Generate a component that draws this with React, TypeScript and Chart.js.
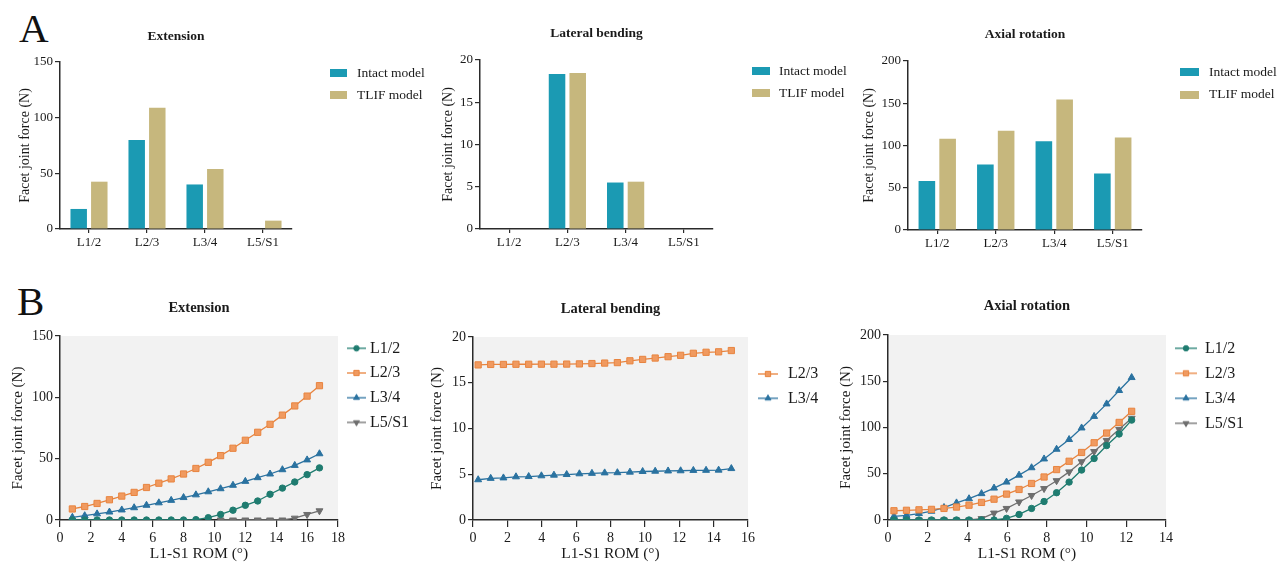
import React, { useEffect, useRef } from "react";
import { Chart, registerables } from "chart.js";

Chart.register(...registerables);

// ---------------- data ----------------
const levels = ["L1/2", "L2/3", "L3/4", "L5/S1"];
const modelNames = ["Intact model", "TLIF model"];

const extensionIntact = [18, 80, 40, 0];
const extensionTlif = [42.5, 109, 54, 7.5];
const lateralIntact = [0, 18.35, 5.5, 0];
const lateralTlif = [0, 18.45, 5.6, 0];
const axialIntact = [58, 77.5, 105, 67];
const axialTlif = [108, 117.5, 154.5, 109.5];

const extensionRom = [0.8, 1.6, 2.4, 3.2, 4.0, 4.8, 5.6, 6.4, 7.2, 8.0, 8.8, 9.6, 10.4, 11.2, 12.0, 12.8, 13.6, 14.4, 15.2, 16.0, 16.8];
const extensionL12 = [0, 0, 0, 0, 0, 0, 0, 0, 0, 0, 0.3, 1.9, 4.5, 8, 12, 15.5, 21, 26, 31, 37, 42.5];
const extensionL23 = [9, 11, 13.5, 16.5, 19.5, 22.5, 26.5, 30, 33.5, 37.5, 42, 47, 52.5, 58.5, 65, 71.5, 78, 85.5, 93, 101, 109.5];
const extensionL34 = [2.2, 3.5, 5, 6.5, 8.2, 10, 12, 14, 16, 18.3, 20.5, 23, 25.5, 28.3, 31.5, 34.5, 37.5, 41, 44.5, 49, 54];
const extensionL5S1 = [null, null, null, null, null, null, null, null, null, null, null, null, 0, 0, 0, 0, 0, 0, 1.5, 4.5, 7.5];

const lateralLevels = ["L2/3", "L3/4"];
const lateralRom = [0.3, 1.03, 1.77, 2.5, 3.24, 3.98, 4.71, 5.45, 6.19, 6.92, 7.66, 8.4, 9.13, 9.87, 10.6, 11.35, 12.08, 12.82, 13.56, 14.29, 15.03];
const lateralL23 = [16.95, 17.0, 17.0, 17.02, 17.02, 17.03, 17.03, 17.04, 17.06, 17.1, 17.15, 17.2, 17.4, 17.55, 17.7, 17.85, 18.0, 18.22, 18.33, 18.38, 18.52];
const lateralL34 = [4.4, 4.55, 4.6, 4.72, 4.75, 4.83, 4.9, 4.97, 5.05, 5.1, 5.15, 5.17, 5.23, 5.3, 5.33, 5.36, 5.38, 5.42, 5.43, 5.45, 5.62];

const axialRom = [0.3, 0.93, 1.56, 2.19, 2.82, 3.45, 4.08, 4.71, 5.34, 5.97, 6.6, 7.23, 7.86, 8.49, 9.12, 9.75, 10.38, 11.01, 11.64, 12.27];
const axialL12 = [0, 0, 0, 0, 0, 0, 0, 0, 0, 1.8, 6, 12.5, 20, 29.5, 41, 54, 66.5, 80.5, 93, 108];
const axialL23 = [10, 10.5, 11, 11.5, 12.5, 14, 16, 19, 22.5, 28, 33, 39.5, 46.5, 54.5, 63.5, 73, 83.5, 94, 105.5, 117.5];
const axialL34 = [4, 5, 7, 9.5, 13.5, 18.5, 23, 28.5, 34.5, 41, 48.5, 56.5, 66, 76.5, 87, 99.5, 112, 125.5, 140, 154];
const axialL5S1 = [0, 0, 0, 0, 0, 0, 0, 1.5, 7.5, 12.5, 19.5, 26.5, 34, 42.5, 52, 63, 74, 86, 98, 110];

const yTitle = "Facet joint force (N)";
const xTitle = "L1-S1 ROM (°)";

// ---------------- styles ----------------
const FONT = "'Liberation Serif', 'Times New Roman', Times, serif";
const AXIS = "#2a2a2a";
const TEXT = "#1a1a1a";
const INTACT_COLOR = "#1b9ab3";
const TLIF_COLOR = "#c6b77d";
const LINE_STYLE: Record<string, any> = {
  "L1/2": { color: "#1f7c70", fill: "#1f7c70", style: "circle", radius: 3.2, rotation: 0 },
  "L2/3": { color: "#e8843f", fill: "#f09a60", style: "rect", radius: 4.4, rotation: 0 },
  "L3/4": { color: "#2a72a0", fill: "#2a72a0", style: "triangle", radius: 4, rotation: 0 },
  "L5/S1": { color: "#6e6e6e", fill: "#6e6e6e", style: "triangle", radius: 4, rotation: 180 },
};

type Geom = {
  canvas: [number, number, number, number];
  area: [number, number, number, number];
  titleCY: number;
  titleSize: number;
  yTitleCX: number;
  yTitleSize: number;
  xTitleCY?: number;
  xTitleSize?: number;
  tickSize: number;
  xTickLen: number;
  xTickPad: number;
  legend: { iconLeft: number; textLeft: number; firstCY: number; spacing: number; size: number; iconW: number; iconH: number };
};

const G1: Geom = {
  canvas: [0, 10, 432, 260], area: [60, 62, 292, 229], titleCY: 36.7, titleSize: 13.5,
  yTitleCX: 25, yTitleSize: 14, tickSize: 13, xTickLen: 4, xTickPad: 2,
  legend: { iconLeft: 330, textLeft: 357, firstCY: 73, spacing: 22, size: 13.5, iconW: 17, iconH: 8 },
};
const G2: Geom = {
  canvas: [432, 10, 860, 260], area: [480, 60, 713, 229], titleCY: 34, titleSize: 13.5,
  yTitleCX: 448, yTitleSize: 14, tickSize: 13, xTickLen: 4, xTickPad: 2,
  legend: { iconLeft: 752, textLeft: 779, firstCY: 71, spacing: 22, size: 13.5, iconW: 18, iconH: 8 },
};
const G3: Geom = {
  canvas: [860, 10, 1282, 260], area: [908, 61, 1142, 230], titleCY: 35, titleSize: 13.5,
  yTitleCX: 869, yTitleSize: 14, tickSize: 13, xTickLen: 4, xTickPad: 2,
  legend: { iconLeft: 1180, textLeft: 1209, firstCY: 72, spacing: 22.5, size: 13.5, iconW: 19, iconH: 8 },
};
const G4: Geom = {
  canvas: [0, 280, 420, 568], area: [60, 336, 338, 520], titleCY: 308, titleSize: 14.5,
  yTitleCX: 18, yTitleSize: 15, xTitleCY: 553.5, xTitleSize: 15.5, tickSize: 14, xTickLen: 7, xTickPad: 3,
  legend: { iconLeft: 347, textLeft: 370, firstCY: 348.3, spacing: 24.7, size: 16, iconW: 19, iconH: 10 },
};
const G5: Geom = {
  canvas: [420, 280, 830, 568], area: [473, 337, 748, 520], titleCY: 309, titleSize: 14.5,
  yTitleCX: 437.5, yTitleSize: 15, xTitleCY: 553.5, xTitleSize: 15.5, tickSize: 14, xTickLen: 7, xTickPad: 3,
  legend: { iconLeft: 758, textLeft: 788, firstCY: 374, spacing: 24.3, size: 16, iconW: 20, iconH: 10 },
};
const G6: Geom = {
  canvas: [830, 280, 1282, 568], area: [888, 335, 1166, 520], titleCY: 306.7, titleSize: 14.5,
  yTitleCX: 846, yTitleSize: 15, xTitleCY: 553.5, xTitleSize: 15.5, tickSize: 14, xTickLen: 7, xTickPad: 3,
  legend: { iconLeft: 1175, textLeft: 1205, firstCY: 348.3, spacing: 25, size: 16, iconW: 22, iconH: 10 },
};

// ---------------- helpers ----------------
function drawMarker(ctx: CanvasRenderingContext2D, x: number, y: number, m: any) {
  ctx.fillStyle = m.fill;
  ctx.strokeStyle = m.color;
  ctx.lineWidth = 1;
  ctx.beginPath();
  if (m.style === "circle") {
    ctx.arc(x, y, m.radius, 0, Math.PI * 2);
  } else if (m.style === "rect") {
    const s = m.radius * Math.SQRT1_2;
    ctx.rect(x - s, y - s, 2 * s, 2 * s);
  } else {
    const r = m.radius;
    const dir = m.rotation === 180 ? -1 : 1;
    ctx.moveTo(x, y - dir * r);
    ctx.lineTo(x + r * 0.866, y + dir * r * 0.5);
    ctx.lineTo(x - r * 0.866, y + dir * r * 0.5);
    ctx.closePath();
  }
  ctx.fill();
  ctx.stroke();
}

function makeBarIcon(color: string, w: number, h: number) {
  const c = document.createElement("canvas");
  c.width = w;
  c.height = h;
  const ctx = c.getContext("2d")!;
  ctx.fillStyle = color;
  ctx.fillRect(0, 0, w, h);
  return c;
}

function makeLineIcon(level: string, w: number, h: number) {
  const m = LINE_STYLE[level];
  const c = document.createElement("canvas");
  c.width = w;
  c.height = h;
  const ctx = c.getContext("2d")!;
  ctx.strokeStyle = m.color;
  ctx.lineWidth = 1.3;
  ctx.beginPath();
  ctx.moveTo(0, h / 2);
  ctx.lineTo(w, h / 2);
  ctx.stroke();
  drawMarker(ctx, w / 2, h / 2, { ...m, radius: m.radius * 0.85 });
  return c;
}

function legendPlacer(g: Geom) {
  return {
    id: "legendPlacer",
    afterLayout(chart: any) {
      const lg = chart.legend;
      if (!lg) return;
      const L = g.legend;
      const P = 2 * (L.textLeft - L.iconLeft) - L.iconW - L.size;
      const cursorX = L.iconLeft - P / 2 + L.iconW / 2;
      const pad = L.spacing - L.size;
      lg.left = cursorX - pad - g.canvas[0];
      lg.right = chart.width;
      lg.width = lg.right - lg.left;
      lg.top = L.firstCY - L.size / 2 - pad - g.canvas[1];
      lg.bottom = chart.height;
      lg.height = lg.bottom - lg.top;
    },
  };
}

const grayBackground = {
  id: "grayBackground",
  beforeDraw(chart: any) {
    const a = chart.chartArea;
    const ctx = chart.ctx;
    ctx.save();
    ctx.fillStyle = "#f2f2f2";
    ctx.fillRect(a.left, a.top, a.right - a.left, a.bottom - a.top);
    ctx.restore();
  },
};

function baseOptions(g: Geom, title: string, icons: HTMLCanvasElement[], yMax: number, yStep: number, xScale: any) {
  const [cl, ct, cr, cb] = g.canvas;
  const [L, T, R, B] = g.area;
  const tlh = g.titleSize * 1.2;
  const ylh = g.yTitleSize * 1.2;
  const L2 = g.legend;
  const P = 2 * (L2.textLeft - L2.iconLeft) - L2.iconW - L2.size;
  return {
    responsive: false,
    animation: false,
    events: [],
    layout: { padding: { left: 0, top: 0, right: cr - R - 1, bottom: 0 } },
    plugins: {
      tooltip: { enabled: false },
      title: {
        display: true,
        text: title,
        fullSize: false,
        color: TEXT,
        font: { family: FONT, size: g.titleSize, weight: "bold" },
        padding: { top: g.titleCY - ct - tlh / 2, bottom: T - g.titleCY - tlh / 2 },
      },
      legend: {
        display: true,
        position: "right",
        align: "start",
        maxWidth: 1,
        labels: {
          color: TEXT,
          font: { family: FONT, size: L2.size },
          padding: L2.spacing - L2.size,
          usePointStyle: true,
          pointStyleWidth: P,
          generateLabels: (chart: any) => {
            const items = Chart.defaults.plugins.legend.labels.generateLabels(chart);
            return items.map((it: any, i: number) => ({ ...it, pointStyle: icons[i], rotation: 0 }));
          },
        },
      },
    },
    scales: {
      x: {
        ...xScale,
        border: { display: true, color: AXIS, width: 1.5 },
        afterFit: (s: any) => {
          s.height = cb - B;
        },
      },
      y: {
        min: 0,
        max: yMax,
        ticks: { stepSize: yStep, color: TEXT, font: { family: FONT, size: g.tickSize }, padding: 2 },
        grid: { drawOnChartArea: false, drawTicks: true, tickLength: 5, color: AXIS, lineWidth: 1.2 },
        border: { display: true, color: AXIS, width: 1.5 },
        title: {
          display: true,
          text: yTitle,
          color: TEXT,
          font: { family: FONT, size: g.yTitleSize },
          padding: { top: g.yTitleCX - cl - ylh / 2, bottom: 0 },
        },
        afterFit: (s: any) => {
          s.width = L - cl;
        },
      },
    },
  };
}

function barConfig(g: Geom, title: string, intact: number[], tlif: number[], yMax: number, yStep: number) {
  const icons = [
    makeBarIcon(INTACT_COLOR, g.legend.iconW, g.legend.iconH),
    makeBarIcon(TLIF_COLOR, g.legend.iconW, g.legend.iconH),
  ];
  const xScale = {
    type: "category",
    offset: true,
    ticks: { color: TEXT, font: { family: FONT, size: g.tickSize }, padding: g.xTickPad, maxRotation: 0, autoSkip: false },
    grid: { offset: false, drawOnChartArea: false, drawTicks: true, tickLength: g.xTickLen, color: AXIS, lineWidth: 1.2 },
  };
  return {
    type: "bar",
    data: {
      labels: levels,
      datasets: [
        { label: modelNames[0], data: intact, backgroundColor: INTACT_COLOR, borderWidth: 0, categoryPercentage: 0.71, barPercentage: 0.8 },
        { label: modelNames[1], data: tlif, backgroundColor: TLIF_COLOR, borderWidth: 0, categoryPercentage: 0.71, barPercentage: 0.8 },
      ],
    },
    options: baseOptions(g, title, icons, yMax, yStep, xScale),
    plugins: [legendPlacer(g)],
  };
}

function lineConfig(g: Geom, title: string, names: string[], rom: number[], series: (number | null)[][], xMax: number, yMax: number, yStep: number) {
  const icons = names.map((n) => makeLineIcon(n, g.legend.iconW, g.legend.iconH));
  const xlh = (g.xTitleSize || 15) * 1.2;
  const xScale = {
    type: "linear",
    min: 0,
    max: xMax,
    ticks: { stepSize: 2, color: TEXT, font: { family: FONT, size: g.tickSize }, padding: g.xTickPad, maxRotation: 0, minRotation: 0, autoSkip: false },
    grid: { drawOnChartArea: false, drawTicks: true, tickLength: g.xTickLen, color: AXIS, lineWidth: 1.2 },
    title: {
      display: true,
      text: xTitle,
      color: TEXT,
      font: { family: FONT, size: g.xTitleSize },
      padding: { top: 0, bottom: g.canvas[3] - (g.xTitleCY || 0) - xlh / 2 },
    },
  };
  const datasets = names.map((n, k) => {
    const st = LINE_STYLE[n];
    const pts = rom
      .map((x, i) => ({ x, y: series[k][i] }))
      .filter((p) => p.y !== null && p.y !== undefined);
    return {
      label: n,
      data: pts,
      borderColor: st.color,
      backgroundColor: st.fill,
      borderWidth: 1.3,
      pointStyle: st.style,
      pointRadius: st.radius,
      pointRotation: st.rotation,
      pointBackgroundColor: st.fill,
      pointBorderColor: st.color,
      pointBorderWidth: 1,
      tension: 0,
      fill: false,
    };
  });
  return {
    type: "line",
    data: { datasets },
    options: baseOptions(g, title, icons, yMax, yStep, xScale),
    plugins: [legendPlacer(g), grayBackground],
  };
}

function ChartCanvas({ geom, make }: { geom: Geom; make: () => any }) {
  const ref = useRef<HTMLCanvasElement>(null);
  useEffect(() => {
    const chart = new Chart(ref.current as HTMLCanvasElement, make());
    return () => chart.destroy();
  }, []);
  const [l, t, r, b] = geom.canvas;
  return (
    <canvas
      ref={ref}
      width={r - l}
      height={b - t}
      style={{ position: "absolute", left: l, top: t, width: r - l, height: b - t }}
    />
  );
}

export default function App() {
  const letter = { position: "absolute" as const, fontFamily: FONT, fontSize: 41, lineHeight: 1, color: "#111" };
  return (
    <div style={{ position: "absolute", left: 0, top: 0, width: 1282, height: 568, background: "#fff", overflow: "hidden" }}>
      <div style={{ ...letter, left: 19, top: 8 }}>A</div>
      <div style={{ ...letter, left: 17, top: 281 }}>B</div>
      <ChartCanvas geom={G1} make={() => barConfig(G1, "Extension", extensionIntact, extensionTlif, 150, 50)} />
      <ChartCanvas geom={G2} make={() => barConfig(G2, "Lateral bending", lateralIntact, lateralTlif, 20, 5)} />
      <ChartCanvas geom={G3} make={() => barConfig(G3, "Axial rotation", axialIntact, axialTlif, 200, 50)} />
      <ChartCanvas
        geom={G4}
        make={() => lineConfig(G4, "Extension", levels, extensionRom, [extensionL12, extensionL23, extensionL34, extensionL5S1], 18, 150, 50)}
      />
      <ChartCanvas
        geom={G5}
        make={() => lineConfig(G5, "Lateral bending", lateralLevels, lateralRom, [lateralL23, lateralL34], 16, 20, 5)}
      />
      <ChartCanvas
        geom={G6}
        make={() => lineConfig(G6, "Axial rotation", levels, axialRom, [axialL12, axialL23, axialL34, axialL5S1], 14, 200, 50)}
      />
    </div>
  );
}
